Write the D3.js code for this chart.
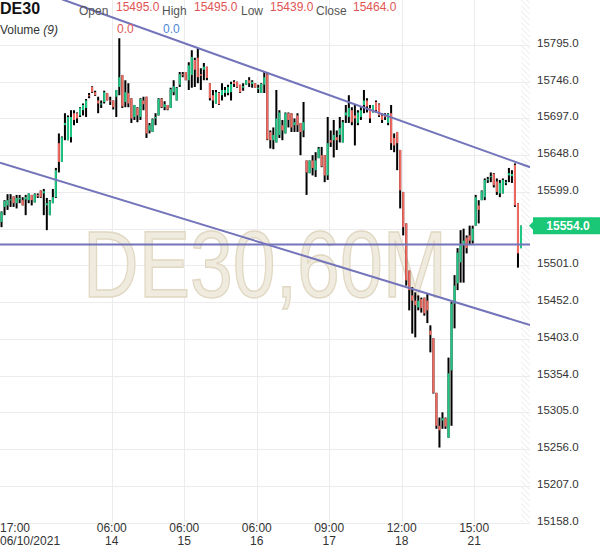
<!DOCTYPE html>
<html><head><meta charset="utf-8">
<script src="https://cdn.jsdelivr.net/npm/d3@7"></script>
<style>body{margin:0;background:#fff}svg{display:block;font-family:"Liberation Sans",Arial,sans-serif}</style>
</head><body><svg id="c" width="600" height="558"></svg>
<script>
const opens=[15559,15579,15581,15588,15593,15584,15589,15588,15589,15588,15595,15585,15595,15601,15597,15581,15568,15584,15592,15664,15639,15688,15668,15672,15704,15704,15701,15708,15711,15728,15739,15732,15721,15716,15719,15731,15721,15721,15726,15739,15755,15719,15731,15724,15699,15711,15699,15721,15726,15681,15679,15697,15701,15723,15712,15715,15711,15732,15721,15742,15756,15759,15748,15755,15775,15778,15756,15762,15766,15744,15728,15717,15731,15728,15731,15731,15732,15746,15746,15742,15738,15742,15748,15743,15744,15736,15731,15742,15756,15679,15668,15665,15675,15688,15677,15704,15704,15688,15701,15691,15681,15641,15624,15641,15628,15644,15648,15648,15621,15668,15668,15672,15675,15665,15701,15699,15708,15701,15691,15699,15715,15721,15711,15705,15719,15716,15701,15700,15691,15704,15671,15679,15655,15599,15557,15494,15461,15454,15445,15456,15458,15454,15414,15404,15331,15287,15294,15297,15271,15361,15450,15477,15505,15528,15538,15541,15534,15554,15581,15588,15592,15615,15619,15623,15613,15597,15597,15611,15621,15620,15635,15584,15524];
const highs=[15573,15588,15596,15596,15593,15595,15595,15592,15595,15597,15595,15597,15597,15601,15603,15591,15588,15603,15631,15677,15673,15704,15701,15708,15708,15705,15712,15717,15723,15731,15740,15734,15726,15721,15734,15731,15726,15721,15735,15804,15755,15748,15744,15724,15715,15712,15724,15726,15726,15691,15697,15704,15724,15724,15720,15715,15738,15748,15739,15759,15759,15759,15772,15788,15778,15791,15764,15771,15766,15744,15735,15735,15732,15744,15739,15742,15746,15748,15746,15742,15744,15748,15752,15748,15744,15742,15744,15759,15759,15681,15685,15735,15708,15695,15705,15705,15704,15697,15704,15691,15719,15641,15641,15648,15652,15659,15659,15648,15699,15681,15695,15681,15699,15695,15715,15728,15712,15715,15708,15712,15735,15724,15715,15715,15721,15717,15704,15704,15704,15715,15677,15679,15655,15599,15557,15494,15472,15465,15461,15458,15458,15464,15421,15404,15331,15298,15305,15298,15378,15452,15488,15524,15548,15550,15541,15554,15554,15595,15588,15601,15617,15619,15625,15624,15617,15615,15617,15615,15631,15628,15637,15584,15554];
const lows=[15552,15568,15575,15579,15579,15577,15584,15581,15568,15584,15581,15585,15591,15591,15568,15548,15568,15584,15591,15625,15639,15668,15668,15665,15688,15691,15699,15701,15699,15724,15731,15727,15704,15711,15717,15721,15715,15709,15699,15728,15711,15712,15712,15691,15695,15692,15695,15708,15671,15677,15679,15688,15701,15711,15708,15708,15711,15728,15721,15739,15752,15748,15735,15738,15739,15744,15735,15748,15748,15721,15711,15717,15715,15721,15726,15728,15721,15739,15738,15731,15734,15742,15739,15738,15738,15731,15731,15731,15668,15657,15656,15665,15671,15668,15677,15685,15679,15679,15679,15648,15672,15595,15624,15621,15619,15644,15632,15612,15615,15659,15645,15655,15665,15665,15691,15691,15688,15661,15688,15695,15704,15705,15691,15705,15705,15699,15691,15695,15688,15655,15652,15628,15577,15541,15474,15441,15410,15405,15441,15438,15434,15424,15385,15330,15283,15258,15283,15283,15271,15287,15417,15468,15478,15478,15517,15528,15530,15554,15557,15588,15588,15611,15612,15605,15595,15592,15597,15608,15612,15611,15579,15498,15524];
const closes=[15572,15587,15588,15589,15584,15591,15591,15581,15592,15597,15588,15596,15593,15592,15600,15584,15587,15592,15628,15639,15672,15691,15699,15699,15695,15697,15711,15715,15721,15727,15732,15728,15717,15717,15732,15721,15720,15712,15735,15752,15713,15732,15717,15697,15715,15701,15723,15716,15677,15688,15696,15699,15723,15712,15716,15709,15736,15740,15738,15756,15755,15748,15768,15779,15762,15752,15754,15766,15751,15724,15721,15732,15716,15735,15735,15739,15743,15743,15739,15732,15740,15748,15744,15746,15738,15738,15743,15752,15669,15668,15675,15697,15705,15681,15704,15695,15685,15692,15688,15679,15692,15625,15641,15631,15641,15657,15633,15621,15664,15665,15675,15668,15684,15692,15705,15711,15692,15697,15705,15708,15721,15713,15697,15715,15708,15701,15695,15699,15703,15664,15661,15664,15601,15552,15481,15468,15454,15448,15454,15444,15437,15441,15408,15331,15287,15281,15297,15286,15357,15450,15474,15518,15528,15534,15524,15534,15550,15592,15575,15600,15615,15616,15620,15608,15599,15611,15615,15612,15624,15623,15581,15517,15554];
const yTicks=[15795,15746,15697,15648,15599,15550,15501,15452,15403,15354,15305,15256,15207,15158];
const xTickIdx=[0,37,61,85,109,133,157];
const xTickTime=["17:00","06:00","06:00","06:00","09:00","12:00","15:00"];
const xTickDay=["06/10/2021","14","15","16","17","18","21"];
const trendUpper=[[20,15856],[175,15632]];
const trendLower=[[-0.5,15638],[175,15421.5]];
const hLevel=15529;
const lastPrice=15554;
const header={sym:"DE30",open:"15495.0",high:"15495.0",low:"15439.0",close:"15464.0",vol1:"0.0",vol2:"0.0"};

const svg=d3.select("#c");
const W=530, H=522.5;
const N=opens.length;
const xb=d3.scaleBand().domain(d3.range(N)).range([0,522.5]).padding(0);
const bw=xb.bandwidth();
const xl=d3.scaleLinear().domain([0,N-1]).range([xb(0)+bw/2,xb(N-1)+bw/2]);
const y=d3.scaleLinear().domain([15158,15795]).range([522.5,45]);

const defs=svg.append("defs");
const pat=defs.append("pattern").attr("id","hatch").attr("patternUnits","userSpaceOnUse").attr("width",4).attr("height",4).attr("patternTransform","rotate(-45)");
pat.append("line").attr("x1",0).attr("y1",0).attr("x2",0).attr("y2",4).attr("stroke","#e4e4e4").attr("stroke-width",1.2);
defs.append("clipPath").attr("id","plot").append("rect").attr("x",0).attr("y",0).attr("width",W).attr("height",H);

svg.append("rect").attr("x",521).attr("y",0).attr("width",9).attr("height",H).attr("fill","url(#hatch)");

const g=svg.append("g");
g.selectAll("line.h").data(yTicks).join("line").attr("x1",0).attr("x2",W).attr("y1",d=>Math.round(y(d))+0.5).attr("y2",d=>Math.round(y(d))+0.5).attr("stroke","#ececec");
g.selectAll("line.v").data(xTickIdx.slice(1)).join("line").attr("x1",d=>Math.round(xb(d))+0.5).attr("x2",d=>Math.round(xb(d))+0.5).attr("y1",0).attr("y2",H).attr("stroke","#ececec");

svg.append("text").attr("x",83).attr("y",297).attr("font-family","'Liberation Sans Narrow','Liberation Sans',Arial").attr("font-size",95)
 .attr("textLength",364).attr("lengthAdjust","spacingAndGlyphs")
 .attr("fill","#f0ebdf").attr("stroke","#e0d8c3").attr("stroke-width",1.5).text("DE30,60M");

const cg=svg.append("g").attr("clip-path","url(#plot)");
const idx=d3.range(N);
cg.selectAll("rect.w").data(idx).join("rect").attr("x",i=>xl(i)-1).attr("width",2)
 .attr("y",i=>y(highs[i])).attr("height",i=>Math.max(1,y(lows[i])-y(highs[i]))).attr("fill","#000");
cg.selectAll("rect.b").data(idx).join("rect").attr("x",i=>xl(i)-1).attr("width",2)
 .attr("y",i=>y(Math.max(opens[i],closes[i]))).attr("height",i=>Math.max(1,Math.abs(y(opens[i])-y(closes[i]))))
 .attr("fill",i=>closes[i]>=opens[i]?"#1ec985":"#f4695f");

const tl=svg.append("g").attr("clip-path","url(#plot)");
const lc="#7474bb";
[trendUpper,trendLower].forEach(t=>{
 tl.append("line").attr("x1",xl(t[0][0])).attr("y1",y(t[0][1])).attr("x2",xl(t[1][0])).attr("y2",y(t[1][1])).attr("stroke",lc).attr("stroke-width",2);
});
tl.append("line").attr("x1",0).attr("x2",W).attr("y1",y(hLevel)).attr("y2",y(hLevel)).attr("stroke",lc).attr("stroke-width",2);

const py=y(lastPrice);
svg.selectAll("text.yl").data(yTicks.filter(d=>Math.abs(y(d)-py)>12)).join("text").attr("x",537).attr("y",d=>y(d)+2).attr("font-size",11.5).attr("fill","#333").text(d=>d.toFixed(1));

svg.append("path").attr("d",`M529,${py} L533,${py-4} L533,${py-8.5} L600,${py-8.5} L600,${py+8.5} L533,${py+8.5} L533,${py+4} Z`).attr("fill","#19c776");
svg.append("text").attr("x",568).attr("y",py+4.5).attr("text-anchor","middle").attr("font-size",12).attr("font-weight","bold").attr("fill","#fff").text(lastPrice.toFixed(1));

const xg=svg.append("g").attr("font-size",12).attr("fill","#333");
xTickIdx.forEach((d,k)=>{
 const xx=k===0?0:xb(d); const an=k===0?"start":"middle";
 xg.append("text").attr("x",xx).attr("y",532).attr("text-anchor",an).text(xTickTime[k]);
 xg.append("text").attr("x",xx).attr("y",545).attr("text-anchor",an).text(xTickDay[k]);
});

const hg=svg.append("g").attr("font-size",12);
hg.append("text").attr("x",0).attr("y",14).attr("font-size",16).attr("font-weight","bold").attr("fill","#111").text(header.sym);
const lab=[["Open",79,header.open,116],["High",162,header.high,194],["Low",241,header.low,270],["Close",316,header.close,353]];
lab.forEach(l=>{
 hg.append("text").attr("x",l[1]).attr("y",15).attr("fill","#555").text(l[0]);
 hg.append("text").attr("x",l[3]).attr("y",11).attr("fill","#e05555").text(l[2]);
});
const vt=hg.append("text").attr("x",0).attr("y",34).attr("fill","#333");
vt.append("tspan").text("Volume ");
vt.append("tspan").attr("font-style","italic").text("(9)");
hg.append("text").attr("x",117).attr("y",33).attr("fill","#e05555").text(header.vol1);
hg.append("text").attr("x",163).attr("y",33).attr("fill","#4d86d6").text(header.vol2);
</script></body></html>
